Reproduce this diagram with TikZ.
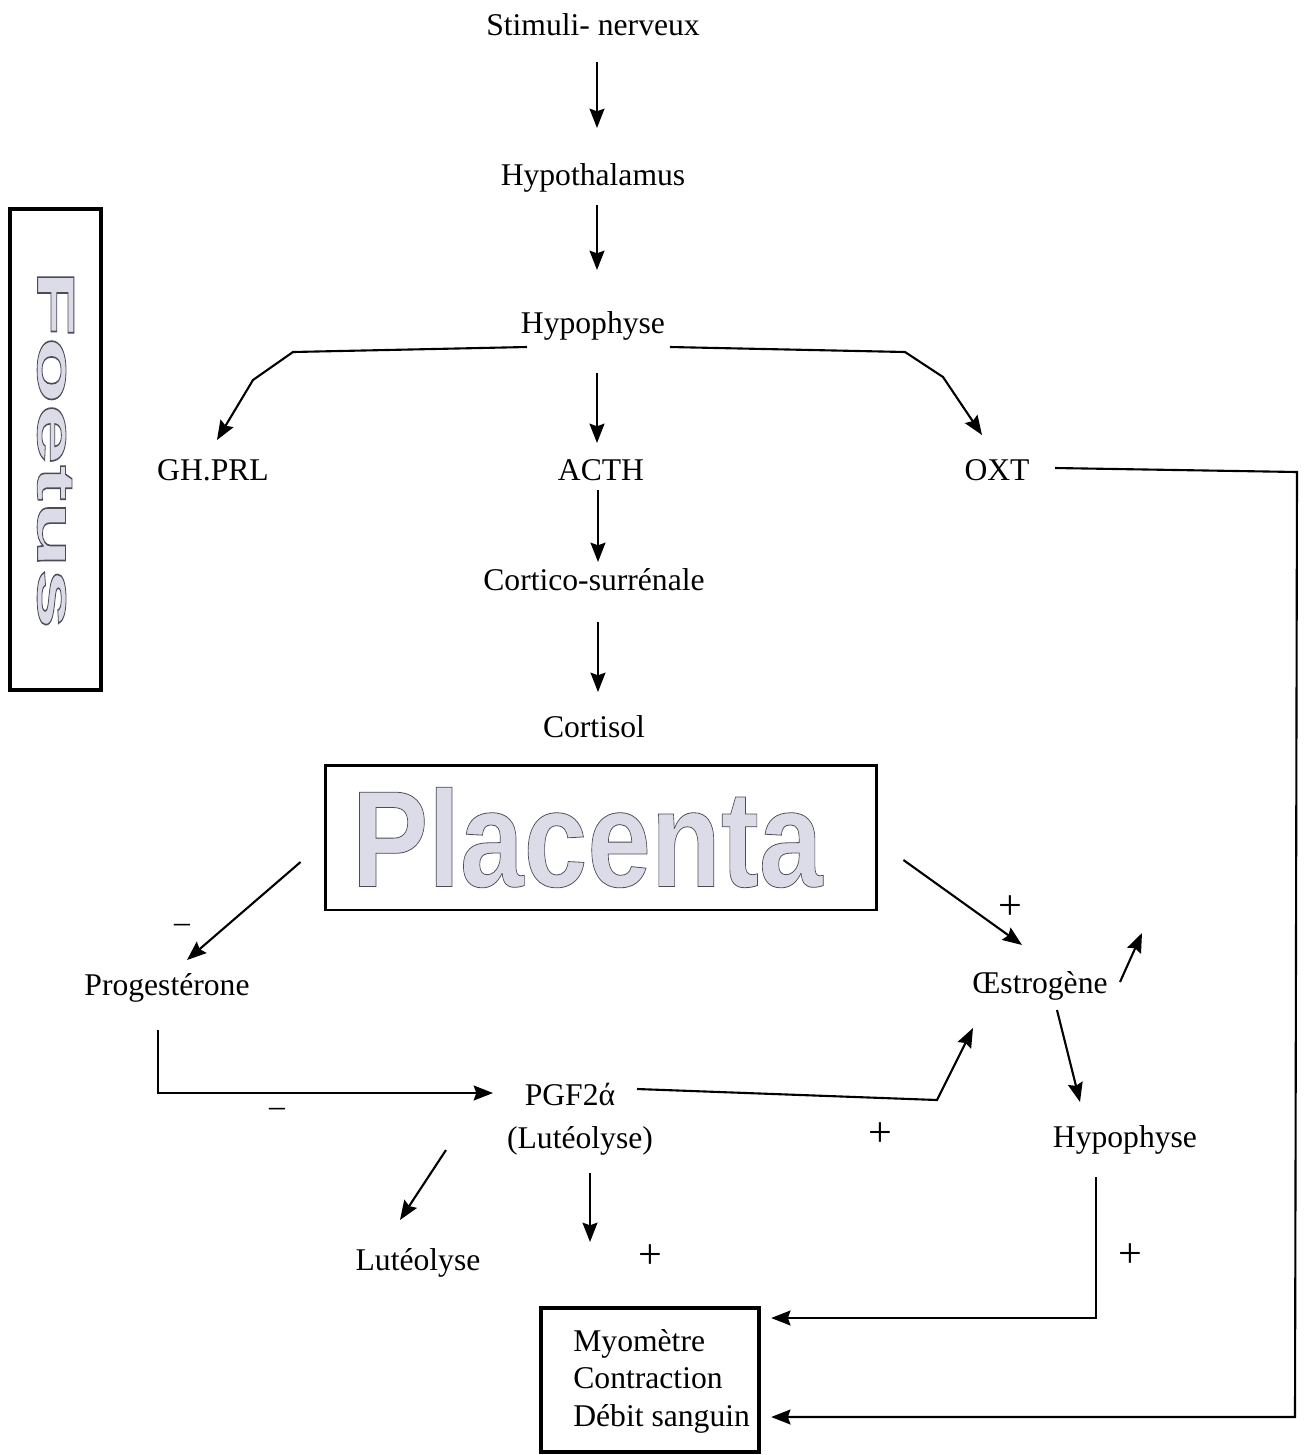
\documentclass[tikz,border=0pt]{standalone}
\usepackage{fontspec}
\setmainfont{Liberation Serif}
\newfontfamily\wordart{Liberation Sans}
\usetikzlibrary{arrows.meta}
\definecolor{wafill}{RGB}{220,220,232}
\newcommand{\outlinetext}[1]{\special{pdf:literal direct 2 Tr 0.45 w 0.3 0.3 0.35 RG}#1\special{pdf:literal direct 0 Tr}}
\begin{document}
\begin{tikzpicture}[x=0.02cm,y=-0.02cm,
  every node/.style={font=\fontsize{18}{21.3}\selectfont, inner sep=0pt},
  lbl/.style={anchor=base},
  arr/.style={-{Stealth[length=11pt,width=8.5pt,inset=1.5pt]}, line width=1.2pt},
  sign/.style={anchor=center, font=\fontsize{24}{24}\selectfont},
  wabox/.style={draw, text=wafill},
  ]
\fill[white] (0,0) rectangle (1313,1455);
% labels
\node[lbl] (stim) at (593,35) {Stimuli- nerveux};
\node[lbl] (hypt) at (593,185) {Hypothalamus};
\node[lbl] (hyp) at (593,333) {Hypophyse};
\node[lbl] (gh) at (213,480) {GH.PRL};
\node[lbl] (acth) at (601,480) {ACTH};
\node[lbl] (oxt) at (997,480) {OXT};
\node[lbl] (cort) at (594,590) {Cortico-surrénale};
\node[lbl] (cortisol) at (594,737) {Cortisol};
\node[lbl] (prog) at (167,995) {Progestérone};
\node[lbl] (oes) at (1040,993) {Œstrogène};
\node[lbl] (pgf) at (570,1105) {PGF2ά};
\node[lbl] (lut1) at (580,1148) {(Lutéolyse)};
\node[lbl] (hyp2) at (1125,1147) {Hypophyse};
\node[lbl] (lut2) at (418,1270) {Lutéolyse};
% boxes
\node[wabox, line width=2.5pt, minimum width=1.82cm, minimum height=9.62cm] (foetus) at (55.5,449.5)
  {\rotatebox{-90}{\scalebox{2.08}[1]{\wordart\bfseries\fontsize{30}{30}\selectfont\outlinetext{Foetus}}}};
\node[wabox, line width=1.7pt, minimum width=11.04cm, minimum height=2.9cm] (plac) at (601,837.5)
  {\scalebox{0.835}[1]{\wordart\bfseries\fontsize{78}{78}\selectfont\outlinetext{Placenta}}\kern0.55cm};
\node[draw, line width=2.5pt, minimum width=4.36cm, minimum height=2.88cm] (myo) at (650,1380) {};
\node[anchor=west, align=left] (myotxt) at (573,1381) {Myomètre\\Contraction\\Débit sanguin};
% signs
\node[anchor=center] (m1) at (182,928) {–};
\node[anchor=center] (m2) at (277,1112) {–};
\node[sign] (p1) at (1010,908) {+};
\node[sign] (p2) at (880,1135) {+};
\node[sign] (p3) at (650,1257) {+};
\node[sign] (p4) at (1130,1256) {+};
% arrows
\draw[arr] ([shift={(4,27)}]stim.base) -- ([shift={(4,-57)}]hypt.base);
\draw[arr] ([shift={(4,20)}]hypt.base) -- ([shift={(4,-63)}]hyp.base);
\draw[arr] ([shift={(4,40)}]hyp.base) -- ([shift={(-4,-37)}]acth.base);
\draw[arr] ([shift={(-66,14)}]hyp.base) -- (293,352) -- (253,380) -- ([shift={(4,-40)}]gh.base);
\draw[arr] ([shift={(77,14)}]hyp.base) -- (905,352) -- (943,377) -- ([shift={(-15,-45)}]oxt.base);
\draw[arr] ([shift={(-3,10)}]acth.base) -- ([shift={(4,-28)}]cort.base);
\draw[arr] ([shift={(4,32)}]cort.base) -- ([shift={(4,-45)}]cortisol.base);
\draw[arr] ([shift={(-23,24.5)}]plac.west) -- ([shift={(20,-35)}]prog.base);
\draw[arr] ([shift={(25,22.5)}]plac.east) -- ([shift={(-18,-48)}]oes.base);
\draw[arr] ([shift={(80,-11)}]oes.base) -- ([shift={(102,-60)}]oes.base);
\draw[arr] ([shift={(-9,35)}]prog.base) |- ([shift={(-77,-12)}]pgf.base);
\draw[arr] ([shift={(67,-16)}]pgf.base) -- (937,1100) -- ([shift={(-67,35)}]oes.base);
\draw[arr] ([shift={(17,17)}]oes.base) -- ([shift={(-45,-45)}]hyp2.base);
\draw[arr] ([shift={(-134,2)}]lut1.base) -- ([shift={(-18,-50)}]lut2.base);
\draw[arr] ([shift={(10,25)}]lut1.base) -- ([shift={(10,94)}]lut1.base);
\draw[arr] ([shift={(-29,30)}]hyp2.base) |- ([shift={(10,-62)}]myo.east);
\draw[arr] ([shift={(58,-12)}]oxt.base) -- (1297,472) -- (1295,1417) -- ([shift={(10,37)}]myo.east);
\end{tikzpicture}
\end{document}
